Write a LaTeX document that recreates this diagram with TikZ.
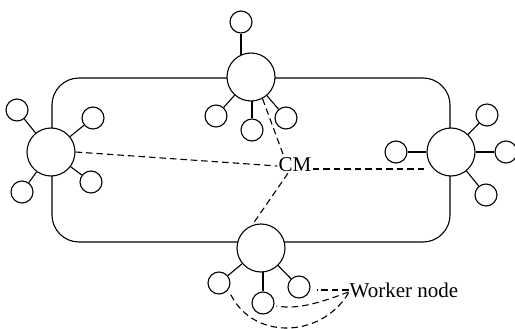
\documentclass[tikz,border=0pt]{standalone}
\usepackage{fontspec}
\setmainfont{Liberation Serif}
\usetikzlibrary{backgrounds}
\begin{document}
\begin{tikzpicture}[x=1pt,y=-1pt,
  big/.style={circle,draw,fill=white,minimum size=48pt,inner sep=0pt,line width=1.1pt},
  small/.style={circle,draw,fill=white,minimum size=22pt,inner sep=0pt,line width=1.1pt},
  spoke/.style={line width=1.1pt},
  dsh/.style={line width=1.1pt,dash pattern=on 6.5pt off 4pt},
  lbl/.style={inner sep=1pt,font=\fontsize{21}{24}\selectfont}]
\useasboundingbox (0,0) rectangle (515,329);
% big nodes
\node[big] (T) at (251,77) {};
\node[big] (L) at (51,152) {};
\node[big] (R) at (451,152) {};
\node[big] (B) at (261,248) {};
% small nodes
\node[small] (T1) at (241,22) {};
\node[small] (T2) at (216,116) {};
\node[small] (T3) at (252,130) {};
\node[small] (T4) at (286,118) {};
\node[small] (L1) at (17,110) {};
\node[small] (L2) at (93,118) {};
\node[small] (L3) at (91,182) {};
\node[small] (L4) at (22,192) {};
\node[small] (R1) at (396,152) {};
\node[small] (R2) at (487,115) {};
\node[small] (R3) at (506,152) {};
\node[small] (R4) at (486,195) {};
\node[small] (B1) at (219,283) {};
\node[small] (B2) at (263,303) {};
\node[small] (B3) at (299,287) {};
% labels
\node[lbl] (CM) at (295,165) {CM};
\node[lbl] (W) at (404,290) {Worker node};
\begin{pgfonlayer}{background}
\draw[line width=1.1pt,rounded corners=27pt] (52,78) rectangle (450,242);
\draw[spoke] (T1) -- (T1 |- T.center);
\draw[spoke] (T) -- (T2);
\draw[spoke] (T3) -- (T3 |- T.center);
\draw[spoke] (T) -- (T4);
\foreach \s in {L1,L2,L3,L4} \draw[spoke] (L) -- (\s);
\foreach \s in {R1,R2,R3,R4} \draw[spoke] (R) -- (\s);
\draw[spoke] (B) -- (B1);
\draw[spoke] (B2) -- (B2 |- B.center);
\draw[spoke] (B) -- (B3);
\end{pgfonlayer}
% dashed connections
\draw[dsh] (L.east) -- ([yshift=-1pt]CM.west);
\draw[dsh] ([yshift=-4pt]CM.east) -- ([yshift=-4pt]CM.east -| R.west);
\draw[dsh] (T.298) -- ([xshift=-11pt]CM.north);
\draw[dsh] ([xshift=-7pt]CM.south) -- (B.111);
\draw[dsh] (W.west) -- ([xshift=6pt]W.west -| B3.east);
\draw[dsh] ([yshift=-2pt]W.west) .. controls (322,302) and (298,310) .. ([xshift=2pt,yshift=-3pt]B2.east);
\draw[dsh] ([yshift=-3pt]W.west) .. controls (320,340) and (250,340) .. ([xshift=2pt]B1.south east);
\end{tikzpicture}
\end{document}
